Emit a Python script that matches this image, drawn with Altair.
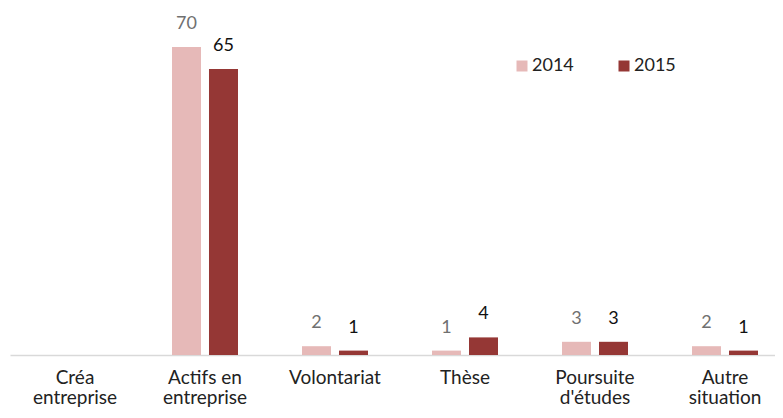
import altair as alt
import pandas as pd

categories = ["Créa|entreprise", "Actifs en|entreprise", "Volontariat", "Thèse", "Poursuite|d'études", "Autre|situation"]
years = ["2014", "2015"]
values_2014 = [None, 70, 2, 1, 3, 2]
values_2015 = [None, 65, 1, 4, 3, 1]

rows = []
for c, v14, v15 in zip(categories, values_2014, values_2015):
    if v14 is not None:
        rows.append({"cat": c, "year": "2014", "value": v14})
    if v15 is not None:
        rows.append({"cat": c, "year": "2015", "value": v15})
df = pd.DataFrame(rows)

FONT = "Lato"

x = alt.X("cat:N", sort=categories,
          scale=alt.Scale(domain=categories, paddingInner=0, paddingOuter=0, range=[0, 780]),
          axis=alt.Axis(title=None, labelAngle=0, ticks=False, domainColor="#d9d9d9", domainWidth=1.5,
                        labelFont=FONT, labelFontSize=19, labelColor="#222222", labelPadding=13,
                        labelLineHeight=20, labelExpr="split(datum.value, '|')"))
xo = alt.XOffset("year:N", scale=alt.Scale(domain=years, paddingInner=0.216, paddingOuter=0.865))
y = alt.Y("value:Q", scale=alt.Scale(domain=[0, 75], nice=False), axis=None)

bars = alt.Chart(df).mark_bar().encode(
    x=x, xOffset=xo, y=y,
    color=alt.Color("year:N", scale=alt.Scale(domain=years, range=["#E6B9B8", "#953735"]),
                    legend=alt.Legend(title=None, orient="none", legendX=503, legendY=32, direction="horizontal",
                                      symbolType="square", symbolSize=121, symbolStrokeWidth=0,
                                      labelFont=FONT, labelFontSize=18, labelColor="#222222",
                                      columnPadding=41, labelOffset=1)),
)

labels = alt.Chart(df).mark_text(baseline="bottom", dy=-14, font=FONT, fontSize=18).encode(
    x=x, xOffset=xo, y=y, text=alt.Text("value:Q"),
    color=alt.Color("year:N", scale=alt.Scale(domain=years, range=["#707070", "#111111"]), legend=None),
)

chart = alt.layer(bars, labels).resolve_scale(color="independent").properties(
    width=765, height=330,
    autosize=alt.AutoSizeParams(type="none"),
    padding={"left": 2, "top": 17, "right": 0, "bottom": 55},
).configure_view(stroke=None)

chart.save("out.html", embed_options={"renderer": "svg", "actions": False})
